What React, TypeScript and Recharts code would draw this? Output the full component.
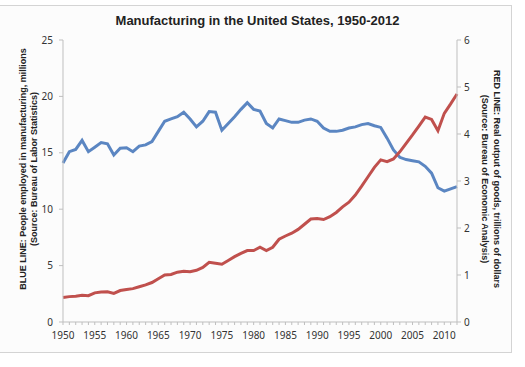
import { LineChart, Line, XAxis, YAxis } from 'recharts';

const years = [
  1950, 1951, 1952, 1953, 1954, 1955, 1956, 1957, 1958, 1959,
  1960, 1961, 1962, 1963, 1964, 1965, 1966, 1967, 1968, 1969,
  1970, 1971, 1972, 1973, 1974, 1975, 1976, 1977, 1978, 1979,
  1980, 1981, 1982, 1983, 1984, 1985, 1986, 1987, 1988, 1989,
  1990, 1991, 1992, 1993, 1994, 1995, 1996, 1997, 1998, 1999,
  2000, 2001, 2002, 2003, 2004, 2005, 2006, 2007, 2008, 2009,
  2010, 2011, 2012,
];

// millions of people employed in manufacturing (left axis)
const employment = [
  14.1, 15.1, 15.3, 16.1, 15.1, 15.5, 15.9, 15.8, 14.8, 15.4,
  15.45, 15.1, 15.6, 15.7, 16.0, 16.9, 17.8, 18.0, 18.2, 18.6,
  18.0, 17.3, 17.8, 18.65, 18.6, 17.0, 17.6, 18.2, 18.85, 19.45,
  18.85, 18.7, 17.6, 17.2, 18.0, 17.85, 17.7, 17.7, 17.9, 18.0,
  17.8, 17.2, 16.9, 16.9, 17.0, 17.2, 17.3, 17.5, 17.6, 17.4,
  17.25, 16.3, 15.25, 14.6, 14.4, 14.3, 14.2, 13.8, 13.2, 11.9,
  11.6, 11.8, 12.0,
];

// real output of goods, trillions of dollars (right axis)
const output = [
  0.52, 0.54, 0.55, 0.57, 0.56, 0.62, 0.64, 0.645, 0.61, 0.67,
  0.69, 0.71, 0.75, 0.79, 0.84, 0.92, 1.0, 1.01, 1.06, 1.08,
  1.07, 1.1, 1.16, 1.27, 1.25, 1.23, 1.31, 1.39, 1.46, 1.52,
  1.52, 1.59, 1.52, 1.59, 1.76, 1.83, 1.89, 1.97, 2.08, 2.19,
  2.2, 2.18, 2.24, 2.33, 2.45, 2.55, 2.7, 2.89, 3.09, 3.29,
  3.45, 3.41, 3.47, 3.62, 3.8, 3.98, 4.17, 4.36, 4.31, 4.07,
  4.44, 4.64, 4.85,
];

const yearLabels = [1950, 1955, 1960, 1965, 1970, 1975, 1980, 1985, 1990, 1995, 2000, 2005, 2010];
const leftTicks = [0, 5, 10, 15, 20, 25];
const rightTicks = [0, 1, 2, 3, 4, 5, 6];

const rows = years.map((year, i) => ({ year, employment: employment[i], output: output[i] }));

const TITLE_FONT = '"Liberation Sans Narrow", "Liberation Sans", sans-serif';
const TICK_FONT = '"Noto Sans", sans-serif';
const AXIS_GRAY = '#bfbfbf';

type VB = { x: number; y: number; width: number; height: number };

function LeftTitle({ viewBox }: { viewBox?: VB }) {
  if (!viewBox) return null;
  const cy = viewBox.y + viewBox.height / 2 - 12;
  return (
    <g fontFamily={TITLE_FONT} fontWeight="bold" fontSize={9} fill="#222" textAnchor="middle">
      <text x={23} y={cy} transform={`rotate(-90 23 ${cy})`} dominantBaseline="central">
        BLUE LINE: People employed in manufacturing, millions
      </text>
      <text x={34} y={cy} transform={`rotate(-90 34 ${cy})`} dominantBaseline="central">
        (Source: Bureau of Labor Statistics)
      </text>
    </g>
  );
}

function RightTitle({ viewBox }: { viewBox?: VB }) {
  if (!viewBox) return null;
  const cy = viewBox.y + viewBox.height / 2 - 2;
  return (
    <g fontFamily={TITLE_FONT} fontWeight="bold" fontSize={9} fill="#222" textAnchor="middle">
      <text x={497} y={cy} transform={`rotate(90 497 ${cy})`} dominantBaseline="central">
        RED LINE: Real output of goods, trillions of dollars
      </text>
      <text x={485} y={cy} transform={`rotate(90 485 ${cy})`} dominantBaseline="central">
        (Source: Bureau of Economic Analysis)
      </text>
    </g>
  );
}

export default function App() {
  return (
    <div style={{ position: 'absolute', left: 0, top: 0, width: 525, height: 367, background: '#fff' }}>
      <div
        style={{
          position: 'absolute', left: -1, top: 5, width: 511, height: 346,
          border: '1px solid #d4d4d4', background: '#fcfcfc',
        }}
      />
      <div
        style={{
          position: 'absolute', left: 0, top: 13, width: 515, textAlign: 'center',
          fontFamily: TITLE_FONT, fontWeight: 'bold', fontSize: 13, color: '#222',
        }}
      >
        Manufacturing in the United States, 1950-2012
      </div>
      <div style={{ position: 'absolute', left: 0, top: 0 }}>
        <LineChart width={525} height={367} data={rows} margin={{ top: 40, right: 0, bottom: 0, left: 0 }}>
          <XAxis
            dataKey="year"
            interval={0}
            height={45}
            tickSize={3}
            tickMargin={7}
            tickFormatter={(y: number) => (yearLabels.includes(y) ? String(y) : '')}
            tick={{ fontSize: 10, fill: '#333', fontFamily: TICK_FONT }}
            axisLine={{ stroke: AXIS_GRAY }}
            tickLine={{ stroke: AXIS_GRAY }}
          />
          <YAxis
            yAxisId="left"
            width={63}
            domain={[0, 25]}
            ticks={leftTicks}
            tickSize={4}
            tickMargin={6}
            tick={{ fontSize: 10, fill: '#333', fontFamily: TICK_FONT }}
            axisLine={{ stroke: AXIS_GRAY }}
            tickLine={{ stroke: AXIS_GRAY }}
            label={<LeftTitle />}
          />
          <YAxis
            yAxisId="right"
            orientation="right"
            width={68}
            domain={[0, 6]}
            ticks={rightTicks}
            tickSize={4}
            tickMargin={3}
            tick={{ fontSize: 10, fill: '#333', fontFamily: TICK_FONT }}
            axisLine={{ stroke: AXIS_GRAY }}
            tickLine={{ stroke: AXIS_GRAY }}
            label={<RightTitle />}
          />
          <Line
            yAxisId="left"
            type="linear"
            dataKey="employment"
            stroke="#5b86c2"
            strokeWidth={3}
            dot={false}
            isAnimationActive={false}
          />
          <Line
            yAxisId="right"
            type="linear"
            dataKey="output"
            stroke="#c0504d"
            strokeWidth={3}
            dot={false}
            isAnimationActive={false}
          />
        </LineChart>
      </div>
    </div>
  );
}
